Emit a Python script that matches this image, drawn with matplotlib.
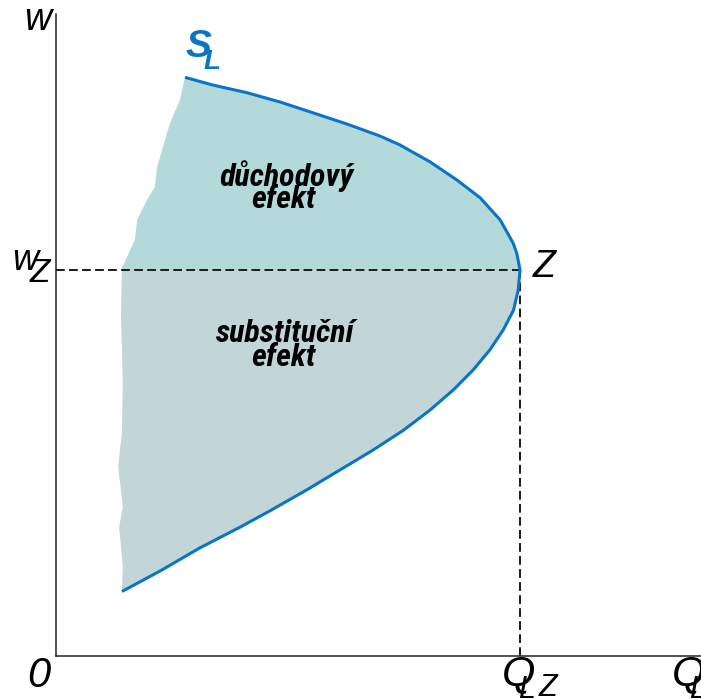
import matplotlib
matplotlib.use("Agg")
import matplotlib.pyplot as plt
from matplotlib import font_manager

names = {f.name for f in font_manager.fontManager.ttflist}
cands = ["Roboto Condensed", "Liberation Sans Narrow", "Archivo Narrow", "DejaVu Sans Condensed"]
NARROW = next((c for c in cands if c in names), "Liberation Sans")

# Data (Q = labour quantity, w = wage); point Z = (Q_LZ, w_Z) = (10, 10)
Q_Z = 10.0
w_Z = 10.0
Q_MAX = 13.9
W_MAX = 16.63

# supply curve S_L, upper (backward bending) branch, from top to Z
upper_Q = [2.78, 3.38, 4.12, 4.83, 5.54, 6.27, 6.98, 7.41, 8.06, 8.64, 9.14, 9.57, 9.85, 9.93, 10.0]
upper_w = [14.99, 14.79, 14.59, 14.35, 14.07, 13.78, 13.47, 13.24, 12.80, 12.33, 11.87, 11.30, 10.70, 10.43, 10.0]
# lower branch, from Z down to bottom end
lower_Q = [10.0, 9.96, 9.86, 9.64, 9.35, 8.99, 8.56, 8.06, 7.49, 6.84, 6.12, 5.40, 4.61, 3.97, 3.10, 2.24, 1.42]
lower_w = [10.0, 9.48, 8.96, 8.45, 7.93, 7.41, 6.89, 6.37, 5.85, 5.34, 4.82, 4.30, 3.76, 3.34, 2.80, 2.20, 1.67]
# irregular left edge of the shaded area, top part (top -> w_Z)
edge_up_Q = [2.78, 2.67, 2.46, 2.35, 2.18, 2.13, 1.96, 1.75, 1.70, 1.42, 1.42]
edge_up_w = [14.99, 14.40, 13.81, 13.37, 12.67, 12.15, 11.81, 11.30, 10.78, 10.05, 10.0]
# bottom part (w_Z -> bottom)
edge_lo_Q = [1.42, 1.40, 1.44, 1.42, 1.34, 1.44, 1.36, 1.44, 1.42]
edge_lo_w = [10.0, 8.78, 7.07, 5.78, 4.90, 3.86, 3.34, 2.31, 1.67]

BLUE = "#0a74c8"
UPPER_FILL = "#b3d9da"
LOWER_FILL = "#c3d6d7"

fig = plt.figure(figsize=(7.01, 6.99), dpi=100)
ax = fig.add_axes([56 / 701, 43 / 699, 645 / 701, 642 / 699])
ax.set_xlim(0, Q_MAX)
ax.set_ylim(0, W_MAX)
for s in ["top", "right"]:
    ax.spines[s].set_visible(False)
for s in ["left", "bottom"]:
    ax.spines[s].set_linewidth(1.1)
    ax.spines[s].set_color("#222222")
ax.set_xticks([])
ax.set_yticks([])

# income effect region (upper)
ax.fill(upper_Q + edge_up_Q[::-1], upper_w + edge_up_w[::-1], color=UPPER_FILL, lw=0, zorder=1)
# substitution effect region (lower)
ax.fill(lower_Q + edge_lo_Q[::-1], lower_w + edge_lo_w[::-1], color=LOWER_FILL, lw=0, zorder=1)

# dashed guides
ax.plot([0, Q_Z], [w_Z, w_Z], color="#1a1a1a", lw=1.4, ls=(0, (4.5, 2.2)), zorder=2)
ax.plot([Q_Z, Q_Z], [0, w_Z], color="#1a1a1a", lw=1.4, ls=(0, (4.5, 2.2)), zorder=2)

# supply curve
ax.plot(upper_Q + lower_Q[1:], upper_w + lower_w[1:], color=BLUE, lw=2.2,
        solid_capstyle="butt", solid_joinstyle="round", zorder=3)

lab = dict(family="Liberation Sans", style="italic", color="black")

def fx(px):
    return px / 701

def fy(py):
    return 1 - py / 699

fig.text(fx(38), fy(20), "w", fontsize=27, ha="center", va="center", **lab)
fig.text(fx(25), fy(261), "w", fontsize=26, ha="center", va="center", **lab)
fig.text(fx(40), fy(273), "Z", fontsize=24, ha="center", va="center", **lab)
fig.text(fx(39), fy(676), "0", fontsize=30, ha="center", va="center", **lab)
fig.text(fx(544), fy(267), "Z", fontsize=27, ha="center", va="center", **lab)
fig.text(fx(519), fy(674), "Q", fontsize=31, ha="center", va="center", **lab)
fig.text(fx(527), fy(690), "L", fontsize=22, ha="center", va="center", **lab)
fig.text(fx(548), fy(688), "Z", fontsize=22, ha="center", va="center", **lab)
fig.text(fx(689), fy(674), "Q", fontsize=31, ha="center", va="center", **lab)
fig.text(fx(698), fy(690), "L", fontsize=22, ha="center", va="center", **lab)

blue_lab = dict(family="Liberation Sans", style="italic", weight="bold", color=BLUE)
fig.text(fx(198), fy(47), "S", fontsize=28, ha="center", va="center", **blue_lab)
fig.text(fx(212), fy(62), "L", fontsize=20, ha="center", va="center", **blue_lab)

mid = dict(family=NARROW, style="italic", weight="bold", color="black", ha="center", va="center")
fig.text(fx(287), fy(176), "důchodový", fontsize=23, **mid)
fig.text(fx(284), fy(199), "efekt", fontsize=23, **mid)
fig.text(fx(285), fy(333), "substituční", fontsize=23, **mid)
fig.text(fx(284), fy(357), "efekt", fontsize=23, **mid)

fig.savefig("out.png", dpi=100)
